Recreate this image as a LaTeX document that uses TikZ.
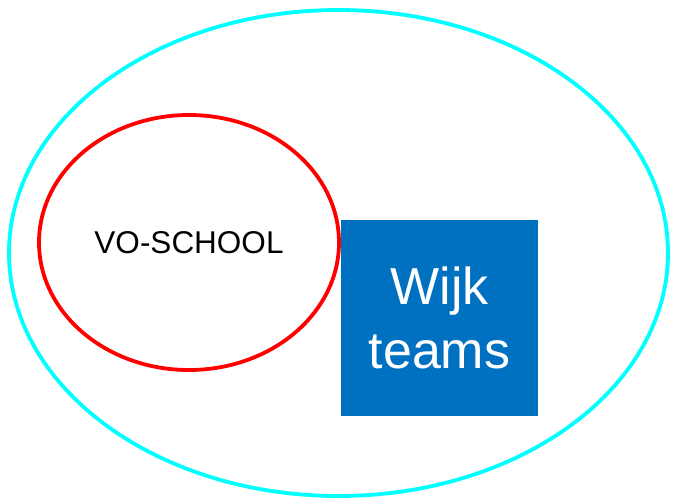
\documentclass[tikz,border=0pt]{standalone}
\usepackage{fontspec}
\setmainfont{Liberation Sans}
\usetikzlibrary{shapes.geometric}
\definecolor{wijkblue}{HTML}{0070C0}
\definecolor{ringcyan}{HTML}{00FFFF}
\definecolor{ringred}{HTML}{FF0000}
\tikzset{
  ring/.style={ellipse, draw, line width=3.8pt, inner sep=0pt},
  wijkbox/.style={rectangle, fill=wijkblue, text=white, inner sep=0pt, align=center}
}
\begin{document}
\begin{tikzpicture}[x=1pt, y=-1pt]
\useasboundingbox (0,0) rectangle (673,501);

\node[ring, draw=ringcyan, minimum width=659pt, minimum height=486pt] (omgeving) at (338.5,253) {};
\node[ring, draw=ringred, minimum width=300pt, minimum height=255pt, font=\fontsize{31.5}{38}\selectfont] (school) at (189,242.5) {VO-SCHOOL};
\node[wijkbox, minimum width=197pt, minimum height=196pt, font=\fontsize{52}{64}\selectfont] (wijk) at (439.5,318) {Wijk\\teams};
\end{tikzpicture}
\end{document}
